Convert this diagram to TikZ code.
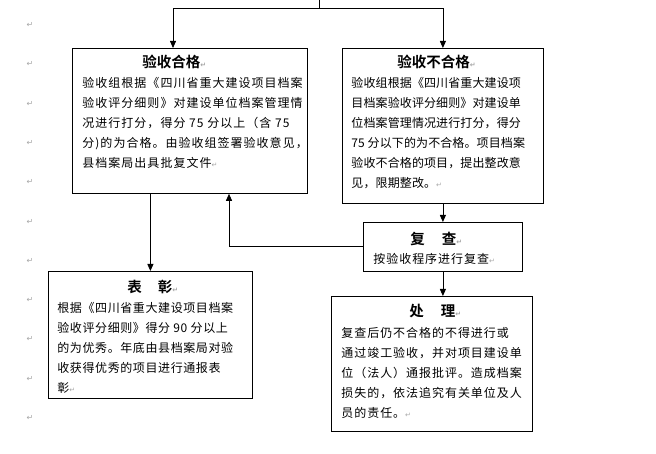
\documentclass[tikz,border=0pt]{standalone}
\usepackage{fontspec}
\setmainfont{Noto Sans CJK SC}[BoldFont={Noto Sans CJK SC Bold}]
\newfontfamily\bodyfont{Noto Sans CJK SC}[LetterSpace=8]
\newfontfamily\passfont{Noto Sans CJK SC}[LetterSpace=8.5]
\newfontfamily\failfont{Noto Sans CJK SC}[LetterSpace=1]
\newfontfamily\praisefont{Noto Sans CJK SC}[LetterSpace=5]
\newfontfamily\markfont{DejaVu Sans}
\usetikzlibrary{arrows.meta}
\newcommand\pmark{{\markfont\fontsize{7}{7}\selectfont\textcolor{gray!70}{↵}}}

\begin{document}
\begin{tikzpicture}[x=1pt,y=-1pt,>={Triangle[length=7pt,width=6pt]},line width=0.8pt,
    box/.style={draw,inner sep=0pt,anchor=north west},
    title/.style={font=\fontsize{14.5}{16}\selectfont\bfseries,inner sep=0pt,anchor=west},
    body/.style={font=\bodyfont\fontsize{12}{20}\selectfont,align=left,inner sep=0pt,anchor=north west},
    margin mark/.style={font=\markfont\fontsize{8}{8}\selectfont,text=gray!70,inner sep=0pt}]
    \useasboundingbox (0,0) rectangle (656,454);
    % paragraph marks in the margin
    \foreach \y [count=\n] in {25,64.3,...,420}
    \node[margin mark] (m\n) at (30,\y) {↵};
    % boxes
    \node[box,minimum width=235pt,minimum height=145pt] (pass) at (72,48) {};
    \node[box,minimum width=201pt,minimum height=155pt] (fail) at (342,48) {};
    \node[box,minimum width=159pt,minimum height=49pt] (recheck) at (363,222) {};
    \node[box,minimum width=204pt,minimum height=127pt] (praise) at (48,271) {};
    \node[box,minimum width=201pt,minimum height=135pt] (handle) at (331,296) {};
    % titles
    \node[title] (passT) at (142,62) {验收合格\pmark};
    \node[title] (failT) at (397,62) {验收不合格\pmark};
    \node[title] (recheckT) at (410,239) {复\hspace{17pt}查\pmark};
    \node[title] (praiseT) at (127,287) {表\hspace{16pt}彰\pmark};
    \node[title] (handleT) at (409,311) {处\hspace{17pt}理\pmark};
    % texts
    \node[body,font=\passfont\fontsize{12}{20}\selectfont] (passB) at (82,77)
    {验收组根据《四川省重大建设项目档案\\
    验收评分细则》对建设单位档案管理情\\
    况进行打分，得分 75 分以上（含 75\\
    分)的为合格。由验收组签署验收意见，\\
    县档案局出具批复文件\pmark};
    \node[body,font=\failfont\fontsize{12}{20}\selectfont] (failB) at (351,77)
    {验收组根据《四川省重大建设项\\
    目档案验收评分细则》对建设单\\
    位档案管理情况进行打分，得分\\
    75 分以下的为不合格。项目档案\\
    验收不合格的项目，提出整改意\\
    见，限期整改。\pmark};
    \node[body] (recheckB) at (373,253) {按验收程序进行复查\pmark};
    \node[body,font=\praisefont\fontsize{12}{20}\selectfont] (praiseB) at (57,302)
    {根据《四川省重大建设项目档案\\
    验收评分细则》得分 90 分以上\\
    的为优秀。年底由县档案局对验\\
    收获得优秀的项目进行通报表\\
    彰\pmark};
    \node[body] (handleB) at (341,327)
    {复查后仍不合格的不得进行或\\
    通过竣工验收，并对项目建设单\\
    位（法人）通报批评。造成档案\\
    损失的，依法追究有关单位及人\\
    员的责任。\pmark};
    % connectors
    \coordinate (top) at (319,0);
    \coordinate (split) at (319,8);
    \draw (top) -- (split);
    \draw[->] (split) -| ([xshift=101pt]pass.north west);
    \draw[->] (split) -| (fail.north);
    \draw[->] (pass.south -| praise.north) -- (praise.north);
    \draw[->] (recheck.west) -| ([xshift=157pt]pass.south west);
    \draw[->] (fail.south) -- (recheck.north);
    \draw[->] (recheck.south) -- (recheck.south |- handle.north);
\end{tikzpicture}
\end{document}
